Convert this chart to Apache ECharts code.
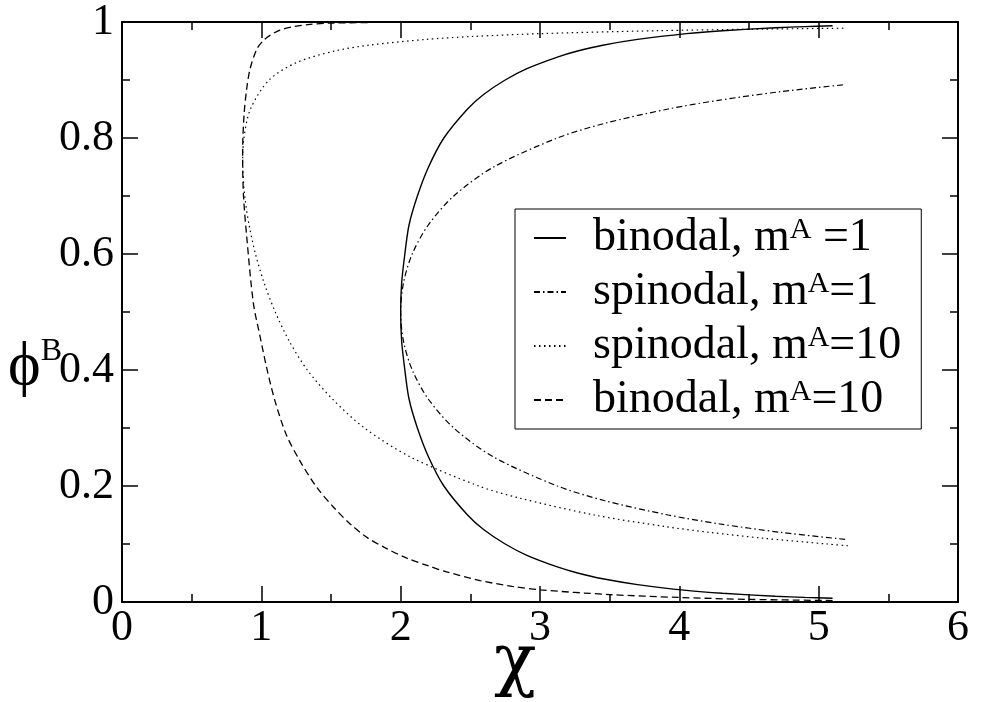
<!DOCTYPE html>
<html>
<head>
<meta charset="utf-8">
<script src="https://cdn.jsdelivr.net/npm/echarts@6/dist/echarts.min.js"></script>
<style>
  html, body { margin: 0; padding: 0; background: #fff; }
  #chart { width: 981px; height: 702px; }
</style>
</head>
<body>
<div id="chart"></div>
<script>
// binodal, m^A = 1 (solid)
const binodal1Phi = [0.0065, 0.008, 0.01, 0.015, 0.02, 0.03, 0.04, 0.05, 0.06, 0.08, 0.1, 0.125, 0.15, 0.2, 0.25, 0.3, 0.35, 0.4, 0.45, 0.5,
  0.55, 0.6, 0.65, 0.7, 0.75, 0.8, 0.85, 0.875, 0.9, 0.92, 0.94, 0.95, 0.96, 0.97, 0.98, 0.985, 0.99, 0.992, 0.9935]
const binodal1Chi = [5.10, 4.90, 4.69, 4.31, 4.05, 3.70, 3.45, 3.27, 3.13, 2.91, 2.75, 2.595, 2.48, 2.31, 2.20, 2.12, 2.06, 2.03, 2.007, 2.0,
  2.007, 2.03, 2.06, 2.12, 2.20, 2.31, 2.48, 2.595, 2.75, 2.91, 3.13, 3.27, 3.45, 3.70, 4.05, 4.31, 4.69, 4.90, 5.10]

// spinodal, m^A = 1 (dash-dot)
const spinodal1Phi = [0.108, 0.12, 0.135, 0.15, 0.175, 0.2, 0.25, 0.3, 0.35, 0.4, 0.45, 0.5,
  0.55, 0.6, 0.65, 0.7, 0.75, 0.8, 0.825, 0.85, 0.865, 0.88, 0.892]
const spinodal1Chi = [5.19, 4.73, 4.28, 3.92, 3.46, 3.125, 2.667, 2.381, 2.198, 2.083, 2.02, 2.0,
  2.02, 2.083, 2.198, 2.381, 2.667, 3.125, 3.46, 3.92, 4.28, 4.73, 5.19]

// spinodal, m^A = 10 (dotted)
const spinodal10Phi = [0.097, 0.1, 0.11, 0.12, 0.13, 0.15, 0.18, 0.2, 0.25, 0.3, 0.35, 0.4, 0.45, 0.5, 0.55, 0.6, 0.65, 0.7, 0.76,
  0.8, 0.85, 0.9, 0.93, 0.95, 0.96, 0.97, 0.975, 0.98, 0.985, 0.9875, 0.9893]
const spinodal10Chi = [5.21, 5.06, 4.60, 4.22, 3.90, 3.39, 2.84, 2.56, 2.07, 1.74, 1.51, 1.33, 1.20, 1.10, 1.02, 0.958, 0.912, 0.881, 0.866,
  0.875, 0.922, 1.056, 1.252, 1.526, 1.771, 2.182, 2.513, 3.010, 3.841, 4.506, 5.18]

// binodal, m^A = 10 (dashed)
const binodal10Phi = [0.0025, 0.0045, 0.0078, 0.0128, 0.021, 0.027, 0.037, 0.052, 0.063, 0.076, 0.092, 0.111, 0.134, 0.163, 0.197, 0.242, 0.288, 0.345, 0.402, 0.459, 0.515, 0.63, 0.70, 0.76,
  0.78, 0.84, 0.885, 0.919, 0.953, 0.968, 0.977, 0.986, 0.992, 0.996, 0.998, 0.9996, 0.99995]
const binodal10Chi = [5.10, 4.5, 4.0, 3.5, 3.0, 2.8, 2.57, 2.33, 2.19, 2.04, 1.90, 1.76, 1.64, 1.52, 1.40, 1.28, 1.18, 1.10, 1.04, 0.99, 0.943, 0.895, 0.872, 0.866,
  0.866, 0.876, 0.895, 0.919, 0.967, 1.014, 1.062, 1.134, 1.23, 1.35, 1.49, 2.0, 5.10]

const seriesNames = ['binodal, mA =1', 'spinodal, mA=1', 'spinodal, mA=10', 'binodal, mA=10']
const legendLabels = {
  'binodal, mA =1': '{t|binodal, m}{s|A}{t| =1}',
  'spinodal, mA=1': '{t|spinodal, m}{s|A}{t|=1}',
  'spinodal, mA=10': '{t|spinodal, m}{s|A}{t|=10}',
  'binodal, mA=10': '{t|binodal, m}{s|A}{t|=10}'
}

const FONT = '"Liberation Serif", "Times New Roman", serif'
const zip = (xs, ys) => xs.map((x, i) => [x, ys[i]])

const chart = echarts.init(document.getElementById('chart'))

const baseAxis = {
  type: 'value',
  axisLine: { show: true, onZero: false, lineStyle: { color: '#000', width: 2 } },
  axisTick: { show: true, inside: true, length: 16, lineStyle: { color: '#000', width: 1.5 } },
  minorTick: { show: true, splitNumber: 2, length: 8, lineStyle: { color: '#000', width: 1.5 } },
  splitLine: { show: false }
}

const xCommon = { ...baseAxis, min: 0, max: 6, interval: 1 }
const yCommon = { ...baseAxis, min: 0, max: 1, interval: 0.2 }

const lineSeries = (name, chi, phi, type, width) => ({
  name,
  type: 'line',
  data: zip(chi, phi),
  symbol: 'none',
  smooth: 0.3,
  silent: true,
  itemStyle: { color: '#000' },
  lineStyle: { color: '#000', width, type }
})

const option = {
  backgroundColor: '#fff',
  animation: false,
  grid: { left: 122, top: 16, right: 23, bottom: 100 },
  xAxis: [
    { ...xCommon, position: 'bottom',
      axisLabel: { color: '#000', fontFamily: FONT, fontSize: 44, margin: 4 } },
    { ...xCommon, position: 'top', axisLabel: { show: false } }
  ],
  yAxis: [
    { ...yCommon, position: 'left',
      axisLabel: { color: '#000', fontFamily: FONT, fontSize: 44, margin: 8 } },
    { ...yCommon, position: 'right', axisLabel: { show: false } }
  ],
  legend: {
    data: seriesNames,
    orient: 'vertical',
    left: 515,
    top: 209,
    padding: [6, 20, 6, 18],
    itemGap: 8,
    itemWidth: 32,
    itemHeight: 12,
    borderColor: '#000',
    borderWidth: 1,
    borderRadius: 0,
    backgroundColor: '#fff',
    itemStyle: { opacity: 0 },
    formatter: name => legendLabels[name],
    textStyle: {
      color: '#000',
      fontFamily: FONT,
      padding: [0, 0, 0, 22],
      rich: {
        t: { fontFamily: FONT, fontSize: 46, lineHeight: 46, color: '#000' },
        s: { fontFamily: FONT, fontSize: 30, lineHeight: 24, verticalAlign: 'top', color: '#000' }
      }
    }
  },
  graphic: [
    {
      type: 'text', left: 494, top: 630, silent: true,
      style: { text: 'χ', font: '70px "DejaVu Serif"', fill: '#000' }
    },
    {
      type: 'text', left: 8, top: 336, silent: true,
      style: {
        text: '{p|ϕ}{s|B}',
        rich: {
          p: { fontFamily: FONT, fontSize: 62, lineHeight: 64, fill: '#000', color: '#000' },
          s: { fontFamily: FONT, fontSize: 32, lineHeight: 28, verticalAlign: 'top', fill: '#000', color: '#000' }
        }
      }
    }
  ],
  series: [
    lineSeries(seriesNames[0], binodal1Chi, binodal1Phi, 'solid', 1.4),
    lineSeries(seriesNames[1], spinodal1Chi, spinodal1Phi, [6, 3, 1.5, 3], 1.2),
    lineSeries(seriesNames[2], spinodal10Chi, spinodal10Phi, [1.5, 3.5], 1.2),
    lineSeries(seriesNames[3], binodal10Chi, binodal10Phi, [7, 4], 1.3)
  ]
}

chart.setOption(option)
</script>
</body>
</html>
